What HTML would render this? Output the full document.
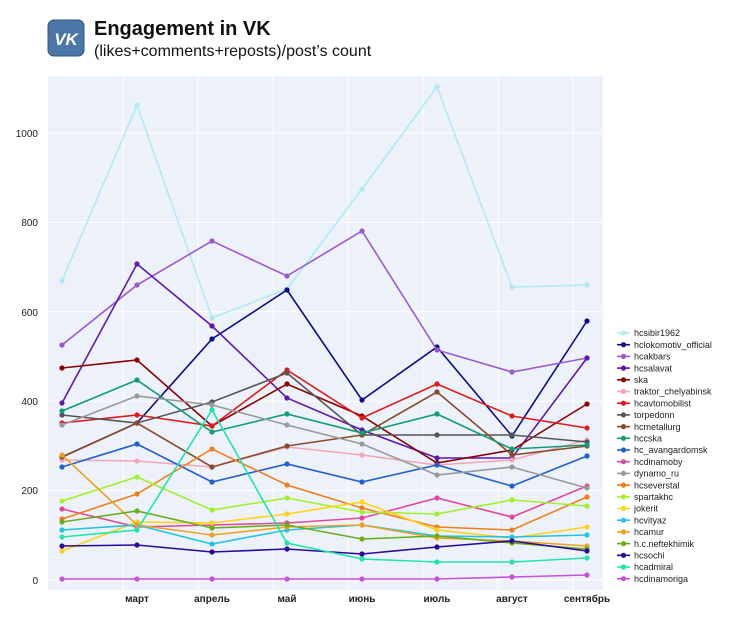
<!DOCTYPE html>
<html><head><meta charset="utf-8"><style>
body{margin:0;background:#fff;width:730px;height:620px;overflow:hidden;font-family:"Liberation Sans",sans-serif}
</style></head><body>
<svg width="730" height="620" xmlns="http://www.w3.org/2000/svg" font-family="Liberation Sans, sans-serif">
<rect x="48" y="20" width="36" height="36" rx="6" fill="#4a76a8" stroke="#2f5580" stroke-width="1"/>
<text x="66" y="45" font-size="17" font-weight="bold" fill="#fff" text-anchor="middle" font-style="italic">VK</text>
<text x="94" y="35" font-size="20" font-weight="bold" fill="#111">Engagement in VK</text>
<text x="94" y="56" font-size="16" fill="#111">(likes+comments+reposts)/post’s count</text>
<rect x="48" y="76" width="555" height="514" fill="#edf2fa"/>
<g stroke="#fff" stroke-width="1">
<line x1="48" x2="603" y1="580" y2="580"/><line x1="48" x2="603" y1="490.6" y2="490.6"/><line x1="48" x2="603" y1="401.2" y2="401.2"/><line x1="48" x2="603" y1="311.8" y2="311.8"/><line x1="48" x2="603" y1="222.4" y2="222.4"/><line x1="48" x2="603" y1="133" y2="133"/>
<line x1="123" x2="123" y1="76" y2="590"/><line x1="198" x2="198" y1="76" y2="590"/><line x1="273" x2="273" y1="76" y2="590"/><line x1="348" x2="348" y1="76" y2="590"/><line x1="423" x2="423" y1="76" y2="590"/><line x1="498" x2="498" y1="76" y2="590"/><line x1="573" x2="573" y1="76" y2="590"/>
</g>
<g font-size="10" fill="#222" text-anchor="end">
<text x="38" y="584">0</text><text x="38" y="494">200</text><text x="38" y="405">400</text><text x="38" y="316">600</text><text x="38" y="226">800</text><text x="38" y="137">1000</text>
</g>
<g font-size="10" fill="#222" text-anchor="middle" font-weight="bold">
<text x="137" y="602">март</text><text x="212" y="602">апрель</text><text x="287" y="602">май</text><text x="362" y="602">июнь</text><text x="437" y="602">июль</text><text x="512" y="602">август</text><text x="587" y="602">сентябрь</text>
</g>
<g id="series" fill="none" stroke-width="1.6"></g>
<g id="legend" font-size="9" fill="#222"></g>
</svg>
<script>
var X=[62,137,212,287,362,437,512,587];
var S=[
["hcsibir1962","#aeeaf5",[281,105,318,289,189,87,287,285]],
["hclokomotiv_official","#0a0a8a",[457,423,339,290,400,347,436,321]],
["hcakbars","#9b59d0",[345,285,241,276,231,350,372,358]],
["hcsalavat","#5e17b5",[403,264,326,398,430,458,458,358]],
["ska","#8b0000",[368,360,426,384,416,463,450,404]],
["traktor_chelyabinsk","#f4a6b8",[460,461,467,447,455,465,460,440]],
["hcavtomobilist","#e31a1c",[423,415,426,370,418,384,416,428]],
["torpedonn","#555555",[415,423,402,373,435,435,435,442]],
["hcmetallurg","#8b4a2b",[457,423,467,446,435,392,455,446]],
["hccska","#0f9d75",[411,380,432,414,433,414,449,445]],
["hc_avangardomsk","#1f5fd0",[467,444,482,464,482,465,486,456]],
["hcdinamoby","#e0489f",[509,527,525,523,518,498,517,486]],
["dynamo_ru","#999999",[425,396,405,425,444,475,467,488]],
["hcseverstal","#f07d1a",[519,494,449,485,508,527,530,497]],
["spartakhc","#a3f02a",[501,477,510,498,512,514,500,506]],
["jokerit","#ffd21a",[551,522,523,514,502,530,538,527]],
["hcvityaz","#22c3e6",[530,525,544,530,525,536,537,535]],
["hcamur","#f0a020",[455,525,535,527,525,538,541,546]],
["h.c.neftekhimik","#6aac1a",[522,511,528,525,539,536,543,549]],
["hcsochi","#2a0a9a",[546,545,552,549,554,547,541,551]],
["hcadmiral","#1ee6a8",[537,530,410,543,559,562,562,558]],
["hcdinamoriga","#c84fd8",[579,579,579,579,579,579,577,575]]];
var ns="http://www.w3.org/2000/svg",g=document.getElementById("series"),L=document.getElementById("legend");
function el(t,a,p){var e=document.createElementNS(ns,t);for(var k in a)e.setAttribute(k,a[k]);p.appendChild(e);return e;}
S.forEach(function(s,i){
 el("polyline",{points:s[2].map(function(y,j){return X[j]+","+y}).join(" "),stroke:s[1]},g);
 s[2].forEach(function(y,j){el("circle",{cx:X[j],cy:y,r:2.6,fill:s[1],stroke:"none"},g);});
 var ly=333+i*11.7;
 el("line",{x1:617,x2:630,y1:ly,y2:ly,stroke:s[1],"stroke-width":1.6},L);
 el("circle",{cx:623.5,cy:ly,r:2.6,fill:s[1]},L);
 var t=el("text",{x:634,y:ly+3.2},L);t.textContent=s[0];
});
</script>
</body></html>
